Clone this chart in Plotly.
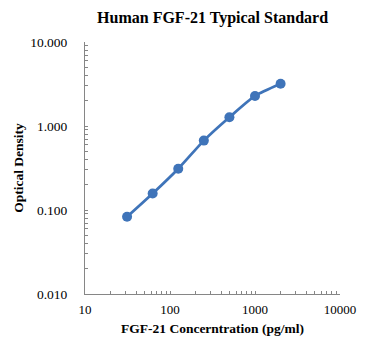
import plotly.graph_objects as go

conc = [31.25, 62.5, 125, 250, 500, 1000, 2000]
od = [0.083, 0.157, 0.31, 0.67, 1.27, 2.28, 3.18]

x_major = [10, 100, 1000, 10000]
x_labels = ["10", "100", "1000", "10000"]
y_major = [0.01, 0.1, 1, 10]
y_labels = ["0.010", "0.100", "1.000", "10.000"]

def log_ticks(majors, labels):
    vals, texts = [], []
    for i, m in enumerate(majors):
        vals.append(m)
        texts.append(labels[i])
        if i < len(majors) - 1:
            for k in range(2, 10):
                vals.append(m * k)
                texts.append("")
    return vals, texts

xv, xt = log_ticks(x_major, x_labels)
yv, yt = log_ticks(y_major, y_labels)

color = "#3F74B9"
serif = "Liberation Serif"

fig = go.Figure(go.Scatter(
    x=conc, y=od, mode="lines+markers",
    line=dict(color=color, width=2.75, shape="spline", smoothing=0.6),
    marker=dict(color=color, size=10),
    showlegend=False,
))

fig.update_layout(
    width=370, height=350,
    margin=dict(l=85, r=30, t=42, b=56),
    paper_bgcolor="white", plot_bgcolor="white",
    font=dict(family=serif, size=12, color="black"),
    title=dict(text="<b>Human FGF-21 Typical Standard</b>", x=0.5745, xanchor="center",
               y=0.951, yanchor="middle", font=dict(family=serif, size=16, color="black")),
)
fig.update_xaxes(
    type="log", range=[1, 4], tickvals=xv, ticktext=xt,
    ticks="inside", ticklen=3, tickcolor="#868686", tickwidth=1,
    showline=True, linecolor="#868686", linewidth=1, showgrid=False, zeroline=False,
    tickfont=dict(family=serif, size=13), ticklabelstandoff=3,
    title=dict(text="<b>FGF-21 Concerntration (pg/ml)</b>", font=dict(family=serif, size=13.5), standoff=7),
)
fig.update_yaxes(
    type="log", range=[-2, 1], tickvals=yv, ticktext=yt,
    ticks="inside", ticklen=3, tickcolor="#868686", tickwidth=1,
    showline=True, linecolor="#868686", linewidth=1, showgrid=False, zeroline=False,
    tickfont=dict(family=serif, size=13.5), ticklabelstandoff=14,
    title=dict(text="<b>Optical Density</b>", font=dict(family=serif, size=13.5), standoff=3),
)

fig.write_html("out.html")
